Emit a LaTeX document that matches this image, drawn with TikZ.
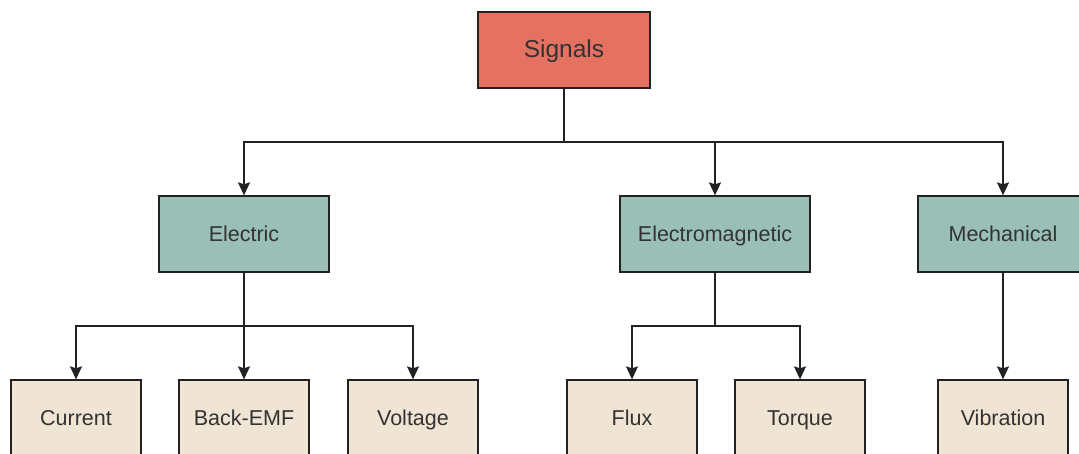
\documentclass[tikz,border=0pt]{standalone}
\usepackage{fontspec}
\setmainfont{Liberation Sans}
\usetikzlibrary{arrows.meta}
\definecolor{sigfill}{HTML}{E57160}
\definecolor{grnfill}{HTML}{9ABFB6}
\definecolor{begfill}{HTML}{F0E5D4}
\definecolor{txt}{HTML}{333333}
\definecolor{edge}{HTML}{222222}
\newcommand\lowtxt[1]{\raisebox{-4pt}{#1}}
\tikzset{
  box/.style={draw=edge, line width=1.3pt, text=txt, inner sep=0pt, anchor=center, text height=0.72em, text depth=0pt},
  rootbox/.style={box, fill=sigfill, minimum width=172pt, minimum height=76pt, font=\fontsize{24.5}{28}\selectfont},
  midbox/.style={box, fill=grnfill, minimum height=76pt, font=\fontsize{21.5}{25}\selectfont},
  leafbox/.style={box, fill=begfill, minimum width=130pt, minimum height=76pt, font=\fontsize{21.5}{25}\selectfont},
  conn/.style={draw=edge, line width=1.4pt},
  arr/.style={conn, -{Stealth[length=13pt,width=12pt,inset=2pt]}},
}
\begin{document}
\begin{tikzpicture}[x=1pt,y=-1pt]
\useasboundingbox (0,0) rectangle (1079,454);
\clip (0,0) rectangle (1079,454);
\fill[white] (0,0) rectangle (1079,454);
\node[rootbox] (sig) at (564,50) {\lowtxt{Signals}};
\node[midbox, minimum width=170pt] (el) at (244,234) {\lowtxt{Electric}};
\node[midbox, minimum width=190pt] (em) at (715,234) {\lowtxt{Electromagnetic}};
\node[midbox, minimum width=170pt] (me) at (1003,234) {\lowtxt{Mechanical}};
\node[leafbox] (cur) at (76,418) {\lowtxt{Current}};
\node[leafbox] (bemf) at (244,418) {\lowtxt{Back-EMF}};
\node[leafbox] (volt) at (413,418) {\lowtxt{Voltage}};
\node[leafbox] (flux) at (632,418) {\lowtxt{Flux}};
\node[leafbox] (torq) at (800,418) {\lowtxt{Torque}};
\node[leafbox] (vib) at (1003,418) {\lowtxt{Vibration}};
\coordinate (b0) at (564,142);
\coordinate (b1) at (244,326);
\coordinate (b2) at (715,326);
\draw[conn] (sig.south) -- (b0);
\draw[arr] (b0) -| (el.north);
\draw[arr] (b0) -| (em.north);
\draw[arr] (b0) -| (me.north);
\draw[conn] (el.south) -- (b1);
\draw[arr] (b1) -| (cur.north);
\draw[arr] (b1) -- (bemf.north);
\draw[arr] (b1) -| (volt.north);
\draw[conn] (em.south) -- (b2);
\draw[arr] (b2) -| (flux.north);
\draw[arr] (b2) -| (torq.north);
\draw[arr] (me.south) -- (vib.north);
\end{tikzpicture}
\end{document}
